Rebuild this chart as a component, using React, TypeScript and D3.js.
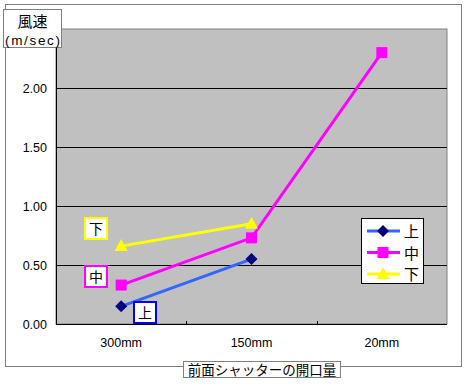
import React from 'react'
import * as d3 from 'd3'

const categories = ['300mm', '150mm', '20mm']
const seriesNames = ['上', '中', '下']
const upperValues = [0.15, 0.55]
const middleValues = [0.33, 0.73, 2.3]
const lowerValues = [0.66, 0.85]
const yTicks = [0, 0.5, 1, 1.5, 2]

const FONT = '"Liberation Sans", "Noto Sans CJK JP", sans-serif'

const series = [
  { name: seriesNames[0], values: upperValues, line: '#3366FF', marker: '#000080', shape: 'diamond' },
  { name: seriesNames[1], values: middleValues, line: '#FF00FF', marker: '#FF00FF', shape: 'square' },
  { name: seriesNames[2], values: lowerValues, line: '#FFFF00', marker: '#FFFF00', shape: 'triangle' },
]

function markerPath(shape: string, cx: number, cy: number) {
  if (shape === 'diamond') return `M${cx},${cy - 6}L${cx + 6},${cy}L${cx},${cy + 6}L${cx - 6},${cy}Z`
  if (shape === 'square') return `M${cx - 5.5},${cy - 5.5}h11v11h-11Z`
  return `M${cx},${cy - 7}L${cx + 6.5},${cy + 5}L${cx - 6.5},${cy + 5}Z`
}

export default function App() {
  const left = 56, right = 447, top = 29, bottom = 324

  const x = d3.scaleBand().domain(categories).range([left, right])
  const y = d3.scaleLinear().domain([0, 2.5]).range([bottom, top])
  const line = d3.line<number>()
    .x((_, i) => (x(categories[i]) as number) + x.bandwidth() / 2)
    .y(d => y(d))

  const boundaries = categories.slice(1).map(c => x(c) as number)

  const labelBoxes = [
    { text: seriesNames[2], x: 84, y: 217, color: '#FFFF00' },
    { text: seriesNames[1], x: 84, y: 265, color: '#FF00FF' },
    { text: seriesNames[0], x: 133, y: 301, color: '#0000FF' },
  ]

  return (
    <svg width={466} height={385} style={{ position: 'absolute', left: 0, top: 0 }} fontFamily={FONT}>
      <rect x={0} y={0} width={466} height={385} fill="#fff" />
      <rect x={5.5} y={4.5} width={456} height={362} fill="#fff" stroke="#808080" />

      <rect x={left} y={top} width={right - left} height={bottom - top} fill="#C0C0C0" stroke="#808080" />
      {yTicks.filter(t => t > 0).map(t => (
        <line key={t} x1={left} x2={right} y1={Math.round(y(t)) + 0.5} y2={Math.round(y(t)) + 0.5} stroke="#000" />
      ))}
      <line x1={left + 0.5} x2={left + 0.5} y1={top} y2={bottom} stroke="#000" />
      <line x1={left} x2={right} y1={bottom + 0.5} y2={bottom + 0.5} stroke="#000" />
      {boundaries.map(b => (
        <line key={b} x1={Math.round(b) + 0.5} x2={Math.round(b) + 0.5} y1={bottom - 3} y2={bottom + 1} stroke="#000" />
      ))}

      {yTicks.map(t => (
        <text key={t} x={47} y={y(t) + 4.5} textAnchor="end" fontSize={12.5} fill="#000">{t.toFixed(2)}</text>
      ))}
      {categories.map(c => (
        <text key={c} x={(x(c) as number) + x.bandwidth() / 2} y={347} textAnchor="middle" fontSize={12.5} fill="#000">{c}</text>
      ))}

      {series.map(s => (
        <g key={s.name}>
          <path d={line(s.values) as string} fill="none" stroke={s.line} strokeWidth={3} />
          {s.values.map((v, i) => (
            <path key={i} d={markerPath(s.shape, (x(categories[i]) as number) + x.bandwidth() / 2, y(v))} fill={s.marker} />
          ))}
        </g>
      ))}

      {labelBoxes.map(b => (
        <g key={b.text}>
          <rect x={b.x + 1} y={b.y + 1} width={22} height={21} fill="#fff" stroke={b.color} strokeWidth={2} />
          <text x={b.x + 12} y={b.y + 17} textAnchor="middle" fontSize={14} fill="#000">{b.text}</text>
        </g>
      ))}

      <rect x={361.5} y={218.5} width={62} height={65} fill="#fff" stroke="#000" />
      {series.map((s, i) => {
        const ly = 231 + i * 21.5
        return (
          <g key={s.name}>
            <line x1={367} x2={400} y1={ly} y2={ly} stroke={s.line} strokeWidth={3} />
            <path d={markerPath(s.shape, 383, ly)} fill={s.marker} />
            <text x={404} y={ly + 6} fontSize={15} fill="#000">{s.name}</text>
          </g>
        )
      })}

      <rect x={3.5} y={9.5} width={58} height={38} fill="#fff" stroke="#808080" />
      <text x={32.5} y={27} textAnchor="middle" fontSize={15} fill="#000">風速</text>
      <text x={5} y={45} fontSize={13.5} fill="#000" textLength={55} lengthAdjust="spacing">(m/sec)</text>

      <rect x={183.5} y={361.5} width={157} height={16} fill="#fff" stroke="#808080" />
      <text x={262} y={375} textAnchor="middle" fontSize={13.5} fill="#000">前面シャッターの開口量</text>
    </svg>
  )
}
